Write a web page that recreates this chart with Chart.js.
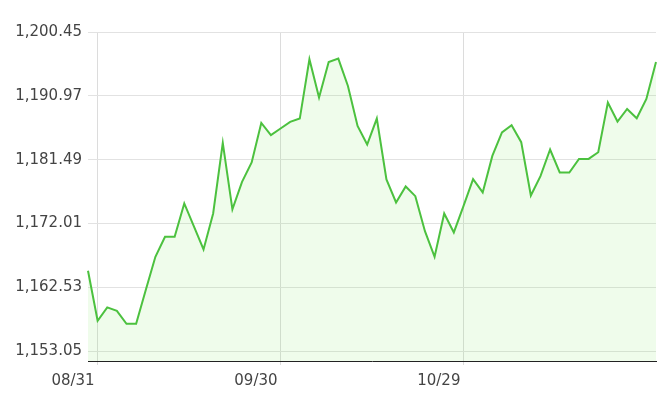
<!DOCTYPE html>
<html>
<head>
<meta charset="utf-8">
<script src="https://cdn.jsdelivr.net/npm/chart.js@4"></script>
<style>
  html, body { margin: 0; padding: 0; background: #fff; }
  canvas { display: block; }
</style>
</head>
<body>
<canvas id="chart" width="658" height="408"></canvas>
<script>
'use strict';

// Daily values
const VALUES = [
  1164.97, 1157.55, 1159.54, 1159.03, 1157.10, 1157.10, 1162.11, 1167.05, 1170.02, 1170.02,
  1174.98, 1171.56, 1168.15, 1173.49, 1183.97, 1174.09, 1178.18, 1181.06, 1186.94, 1185.12,
  1186.11, 1187.09, 1187.59, 1196.40, 1190.71, 1196.00, 1196.50, 1192.43, 1186.50, 1183.73,
  1187.59, 1178.54, 1175.12, 1177.50, 1176.06, 1170.86, 1167.05, 1173.49, 1170.67, 1174.58,
  1178.58, 1176.61, 1182.04, 1185.52, 1186.60, 1184.08, 1176.16, 1179.03, 1182.99, 1179.58,
  1179.58, 1181.60, 1181.60, 1182.59, 1189.97, 1187.15, 1189.02, 1187.64, 1190.50, 1196.00,
];

// [index, label] of the dated ticks on the x axis
const DATE_TICKS = [[1, '08/31'], [20, '09/30'], [39, '10/29']];

const Y_TICKS = [1153.05, 1162.53, 1172.01, 1181.49, 1190.97, 1200.45];
const Y_MIN = 1151.57;
const Y_MAX = 1200.45;

const CATEGORIES = VALUES.map((_, i) => {
  const t = DATE_TICKS.find(d => d[0] === i);
  return t ? t[1] : '';
});

const FONT = { family: '"DejaVu Sans", Verdana, sans-serif', size: 15 };

new Chart(document.getElementById('chart').getContext('2d'), {
  type: 'line',
  data: {
    labels: CATEGORIES,
    datasets: [{
      data: VALUES,
      borderColor: '#4cc13f',
      backgroundColor: 'rgba(120,230,90,0.12)',
      borderWidth: 2,
      pointRadius: 0,
      tension: 0,
      fill: 'start',
    }],
  },
  options: {
    responsive: false,
    animation: false,
    layout: { padding: { top: 32, right: 2, left: 0, bottom: 0 } },
    plugins: {
      legend: { display: false },
      tooltip: { enabled: false },
    },
    scales: {
      x: {
        offset: false,
        afterFit: s => { s.height = 47; },
        afterBuildTicks: s => { s.ticks = s.ticks.filter(t => CATEGORIES[t.value] !== ''); },
        grid: { color: '#dcdcdc', tickLength: 4, drawOnChartArea: true },
        border: { display: true, color: '#222', width: 1 },
        ticks: {
          autoSkip: false,
          maxRotation: 0,
          align: 'end',
          labelOffset: -3,
          padding: 7,
          color: '#444',
          font: FONT,
          callback: v => CATEGORIES[v],
        },
      },
      y: {
        min: Y_MIN,
        max: Y_MAX,
        afterFit: s => { s.width = 88; },
        afterBuildTicks: s => { s.ticks = Y_TICKS.map(v => ({ value: v })); },
        grid: { color: '#e2e2e2', drawTicks: false },
        border: { display: false },
        ticks: {
          padding: 6,
          color: '#444',
          font: FONT,
          callback: v => v.toLocaleString('en-US', { minimumFractionDigits: 2, maximumFractionDigits: 2 }),
        },
      },
    },
  },
});
</script>
</body>
</html>
